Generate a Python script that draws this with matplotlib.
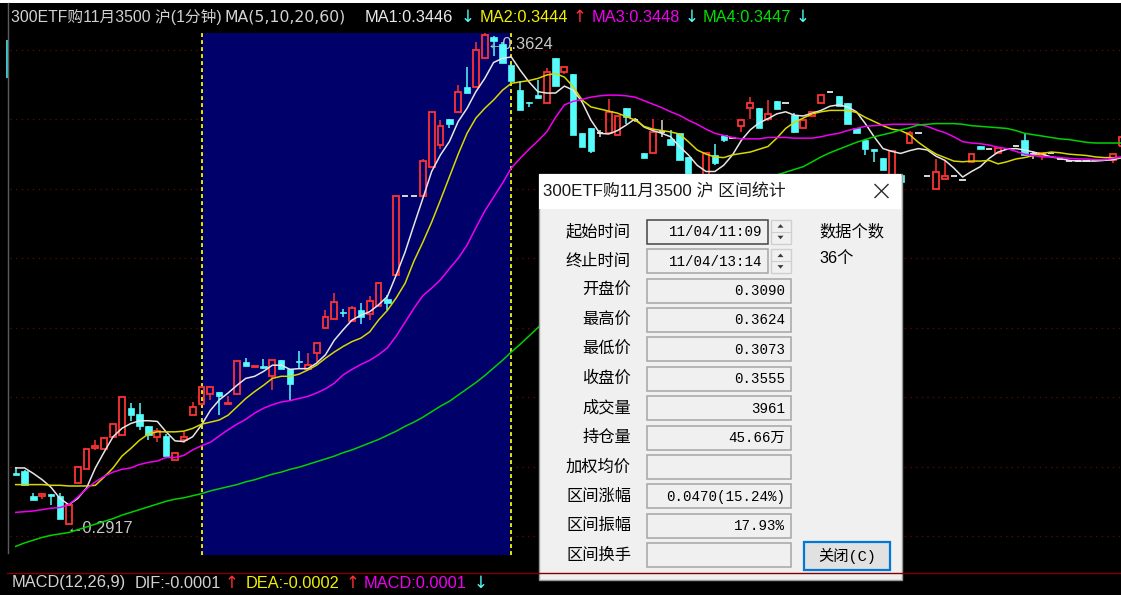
import numpy as np
import matplotlib
matplotlib.use("Agg")
import matplotlib.pyplot as plt
from matplotlib.patches import Rectangle, Polygon

nan = float("nan")

# ---------------- data (1-minute bars) ----------------
opens = [
    0.2991, 0.2993, 0.2958, 0.2958, 0.2961, 0.2958, 0.2917, 0.2977, 0.2997, 0.3027,
    0.3025, 0.3043, 0.3045, 0.3084, 0.3075, 0.3058, 0.3042, 0.3044, 0.3010, 0.3038,
    0.3074, 0.3090, 0.3105, 0.3108, 0.3090, 0.3105, 0.3150, 0.3144, 0.3145, 0.3130,
    0.3153, 0.3140, 0.3152, 0.3140, 0.3164, 0.3199, 0.3212, 0.3223, 0.3209, 0.3226,
    0.3220, 0.3231, 0.3241, 0.3276, 0.3389, 0.3389, 0.3389, 0.3432, 0.3463, 0.3500,
    0.3510, 0.3547, 0.3546, 0.3588, 0.3619, 0.3609, 0.3578, 0.3542, 0.3525, 0.3535,
    0.3524, 0.3588, 0.3569, 0.3565, 0.3480, 0.3488, 0.3480, 0.3480, 0.3477, 0.3517,
    0.3499, 0.3452, 0.3451, 0.3482, 0.3472, 0.3480, 0.3446, 0.3420, 0.3415, 0.3449,
    0.3478, 0.3473, 0.3490, 0.3517, 0.3516, 0.3501, 0.3526, 0.3523, 0.3507, 0.3488,
    0.3505, 0.3523, 0.3540, 0.3534, 0.3523, 0.3487, 0.3470, 0.3457, 0.3444, 0.3420,
    0.3420, 0.3466, 0.3480, 0.3418, 0.3400, 0.3414, 0.3418, 0.3413, 0.3439, 0.3461,
    0.3458, 0.3452, 0.3457, 0.3462, 0.3471, 0.3450, 0.3448, 0.3451, 0.3443, 0.3440,
    0.3440, 0.3440, 0.3441, 0.3441, 0.3441, 0.3462]
highs = [
    0.3000, 0.2995, 0.2962, 0.2962, 0.2961, 0.2962, 0.2945, 0.3000, 0.3026, 0.3038,
    0.3041, 0.3061, 0.3100, 0.3092, 0.3092, 0.3058, 0.3055, 0.3047, 0.3021, 0.3050,
    0.3093, 0.3114, 0.3114, 0.3108, 0.3101, 0.3152, 0.3157, 0.3145, 0.3155, 0.3153,
    0.3153, 0.3140, 0.3166, 0.3164, 0.3178, 0.3226, 0.3250, 0.3227, 0.3231, 0.3235,
    0.3245, 0.3265, 0.3247, 0.3389, 0.3389, 0.3389, 0.3443, 0.3510, 0.3499, 0.3500,
    0.3549, 0.3576, 0.3612, 0.3624, 0.3620, 0.3612, 0.3578, 0.3555, 0.3525, 0.3557,
    0.3574, 0.3588, 0.3575, 0.3565, 0.3480, 0.3488, 0.3485, 0.3529, 0.3505, 0.3517,
    0.3501, 0.3452, 0.3501, 0.3499, 0.3485, 0.3480, 0.3446, 0.3420, 0.3452, 0.3464,
    0.3478, 0.3473, 0.3499, 0.3533, 0.3516, 0.3528, 0.3526, 0.3523, 0.3509, 0.3499,
    0.3510, 0.3535, 0.3540, 0.3534, 0.3523, 0.3487, 0.3470, 0.3457, 0.3444, 0.3454,
    0.3422, 0.3484, 0.3480, 0.3418, 0.3443, 0.3440, 0.3418, 0.3413, 0.3450, 0.3461,
    0.3458, 0.3459, 0.3457, 0.3462, 0.3479, 0.3455, 0.3452, 0.3451, 0.3443, 0.3440,
    0.3440, 0.3440, 0.3441, 0.3441, 0.3450, 0.3475]
lows = [
    0.2988, 0.2973, 0.2952, 0.2953, 0.2945, 0.2925, 0.2917, 0.2977, 0.2997, 0.3024,
    0.3025, 0.3043, 0.3045, 0.3066, 0.3053, 0.3038, 0.3036, 0.3015, 0.3010, 0.3034,
    0.3074, 0.3090, 0.3096, 0.3074, 0.3090, 0.3105, 0.3145, 0.3144, 0.3140, 0.3110,
    0.3141, 0.3096, 0.3142, 0.3140, 0.3150, 0.3199, 0.3212, 0.3216, 0.3209, 0.3205,
    0.3211, 0.3231, 0.3226, 0.3276, 0.3389, 0.3389, 0.3389, 0.3432, 0.3457, 0.3487,
    0.3510, 0.3538, 0.3546, 0.3588, 0.3591, 0.3581, 0.3555, 0.3514, 0.3518, 0.3530,
    0.3524, 0.3548, 0.3565, 0.3477, 0.3460, 0.3451, 0.3475, 0.3480, 0.3476, 0.3494,
    0.3497, 0.3444, 0.3451, 0.3475, 0.3463, 0.3441, 0.3410, 0.3400, 0.3415, 0.3435,
    0.3468, 0.3473, 0.3482, 0.3501, 0.3488, 0.3498, 0.3515, 0.3523, 0.3481, 0.3487,
    0.3505, 0.3523, 0.3540, 0.3520, 0.3494, 0.3480, 0.3449, 0.3439, 0.3427, 0.3420,
    0.3405, 0.3466, 0.3480, 0.3418, 0.3400, 0.3414, 0.3418, 0.3413, 0.3439, 0.3457,
    0.3458, 0.3452, 0.3457, 0.3462, 0.3449, 0.3443, 0.3441, 0.3451, 0.3443, 0.3440,
    0.3440, 0.3440, 0.3441, 0.3441, 0.3437, 0.3462]
closes = [
    0.2988, 0.2973, 0.2952, 0.2960, 0.2958, 0.2925, 0.2945, 0.3000, 0.3026, 0.3030,
    0.3041, 0.3061, 0.3100, 0.3074, 0.3058, 0.3045, 0.3051, 0.3015, 0.3019, 0.3043,
    0.3086, 0.3114, 0.3114, 0.3102, 0.3091, 0.3152, 0.3145, 0.3145, 0.3142, 0.3153,
    0.3141, 0.3119, 0.3150, 0.3146, 0.3178, 0.3216, 0.3237, 0.3221, 0.3228, 0.3216,
    0.3239, 0.3265, 0.3235, 0.3389, 0.3389, 0.3389, 0.3440, 0.3510, 0.3490, 0.3493,
    0.3539, 0.3538, 0.3600, 0.3621, 0.3613, 0.3581, 0.3555, 0.3514, 0.3523, 0.3531,
    0.3569, 0.3548, 0.3575, 0.3477, 0.3460, 0.3455, 0.3480, 0.3511, 0.3505, 0.3503,
    0.3499, 0.3444, 0.3482, 0.3482, 0.3463, 0.3441, 0.3410, 0.3405, 0.3452, 0.3437,
    0.3470, 0.3473, 0.3499, 0.3523, 0.3488, 0.3508, 0.3515, 0.3523, 0.3482, 0.3499,
    0.3510, 0.3535, 0.3540, 0.3520, 0.3494, 0.3480, 0.3458, 0.3454, 0.3427, 0.3454,
    0.3410, 0.3480, 0.3480, 0.3418, 0.3424, 0.3418, 0.3418, 0.3413, 0.3450, 0.3457,
    0.3458, 0.3459, 0.3457, 0.3462, 0.3449, 0.3450, 0.3451, 0.3451, 0.3443, 0.3440,
    0.3440, 0.3440, 0.3441, 0.3441, 0.3450, 0.3475]

ma5 = [
    0.2998, 0.2998, 0.2990, 0.2981, 0.2970, 0.2954, 0.2945, 0.2954, 0.2969, 0.2998,
    0.3021, 0.3043, 0.3055, 0.3062, 0.3066, 0.3066, 0.3065, 0.3050, 0.3037, 0.3036,
    0.3043, 0.3060, 0.3081, 0.3096, 0.3106, 0.3117, 0.3127, 0.3130, 0.3137, 0.3146,
    0.3146, 0.3140, 0.3141, 0.3141, 0.3149, 0.3161, 0.3182, 0.3197, 0.3211, 0.3218,
    0.3223, 0.3233, 0.3245, 0.3276, 0.3309, 0.3348, 0.3386, 0.3425, 0.3449, 0.3468,
    0.3497, 0.3516, 0.3540, 0.3559, 0.3582, 0.3588, 0.3590, 0.3571, 0.3554, 0.3540,
    0.3538, 0.3538, 0.3548, 0.3542, 0.3525, 0.3499, 0.3480, 0.3479, 0.3484, 0.3492,
    0.3501, 0.3489, 0.3484, 0.3480, 0.3475, 0.3461, 0.3449, 0.3434, 0.3425, 0.3425,
    0.3434, 0.3449, 0.3470, 0.3485, 0.3495, 0.3501, 0.3508, 0.3511, 0.3506, 0.3505,
    0.3509, 0.3513, 0.3519, 0.3521, 0.3518, 0.3511, 0.3494, 0.3475, 0.3458, 0.3454,
    0.3451, 0.3455, 0.3458, 0.3456, 0.3447, 0.3441, 0.3430, 0.3417, 0.3425, 0.3432,
    0.3444, 0.3453, 0.3457, 0.3458, 0.3456, 0.3453, 0.3450, 0.3446, 0.3444, 0.3441,
    0.3440, 0.3440, 0.3440, 0.3441, 0.3442, 0.3445]
ma10 = [
    0.2974, 0.2974, 0.2974, 0.2974, 0.2973, 0.2973, 0.2972, 0.2972, 0.2972, 0.2973,
    0.2985, 0.2998, 0.3015, 0.3026, 0.3038, 0.3047, 0.3050, 0.3050, 0.3050, 0.3051,
    0.3055, 0.3061, 0.3064, 0.3067, 0.3074, 0.3086, 0.3098, 0.3108, 0.3117, 0.3127,
    0.3130, 0.3130, 0.3133, 0.3139, 0.3146, 0.3156, 0.3165, 0.3173, 0.3180, 0.3185,
    0.3194, 0.3211, 0.3225, 0.3243, 0.3264, 0.3296, 0.3323, 0.3352, 0.3384, 0.3417,
    0.3450, 0.3480, 0.3502, 0.3516, 0.3528, 0.3542, 0.3552, 0.3554, 0.3556, 0.3559,
    0.3564, 0.3566, 0.3561, 0.3547, 0.3528, 0.3518, 0.3515, 0.3512, 0.3509, 0.3504,
    0.3499, 0.3490, 0.3486, 0.3484, 0.3482, 0.3479, 0.3468, 0.3456, 0.3450, 0.3446,
    0.3445, 0.3449, 0.3451, 0.3453, 0.3457, 0.3461, 0.3473, 0.3487, 0.3496, 0.3502,
    0.3508, 0.3511, 0.3513, 0.3513, 0.3513, 0.3510, 0.3503, 0.3497, 0.3491, 0.3486,
    0.3484, 0.3478, 0.3467, 0.3458, 0.3450, 0.3445, 0.3440, 0.3439, 0.3440, 0.3440,
    0.3441, 0.3436, 0.3439, 0.3443, 0.3445, 0.3448, 0.3451, 0.3453, 0.3452, 0.3450,
    0.3449, 0.3448, 0.3446, 0.3445, 0.3445, 0.3445]
ma20 = [
    0.2934, 0.2935, 0.2936, 0.2938, 0.2940, 0.2941, 0.2945, 0.2956, 0.2968, 0.2978,
    0.2986, 0.2992, 0.2996, 0.2998, 0.3003, 0.3006, 0.3008, 0.3013, 0.3013, 0.3016,
    0.3024, 0.3030, 0.3035, 0.3044, 0.3053, 0.3061, 0.3068, 0.3077, 0.3084, 0.3089,
    0.3093, 0.3095, 0.3098, 0.3101, 0.3106, 0.3112, 0.3120, 0.3132, 0.3140, 0.3147,
    0.3153, 0.3161, 0.3171, 0.3188, 0.3208, 0.3228, 0.3246, 0.3257, 0.3269, 0.3285,
    0.3300, 0.3319, 0.3344, 0.3368, 0.3388, 0.3408, 0.3430, 0.3444, 0.3457, 0.3469,
    0.3482, 0.3503, 0.3521, 0.3526, 0.3529, 0.3532, 0.3534, 0.3535, 0.3535, 0.3534,
    0.3532, 0.3527, 0.3522, 0.3517, 0.3511, 0.3506, 0.3499, 0.3493, 0.3486, 0.3480,
    0.3477, 0.3474, 0.3472, 0.3472, 0.3472, 0.3474, 0.3474, 0.3474, 0.3473, 0.3473,
    0.3473, 0.3475, 0.3478, 0.3480, 0.3484, 0.3487, 0.3490, 0.3491, 0.3492, 0.3493,
    0.3493, 0.3493, 0.3493, 0.3490, 0.3485, 0.3481, 0.3475, 0.3468, 0.3466, 0.3465,
    0.3463, 0.3460, 0.3458, 0.3454, 0.3450, 0.3448, 0.3446, 0.3446, 0.3445, 0.3444,
    0.3443, 0.3443, 0.3442, 0.3442, 0.3444, 0.3446]
# the middle of MA60 lies behind the dialog and is not readable
ma60 = [
    0.2885, 0.2890, 0.2894, 0.2898, 0.2901, 0.2903, 0.2905, 0.2909, 0.2913, 0.2917,
    0.2921, 0.2925, 0.2930, 0.2934, 0.2938, 0.2942, 0.2946, 0.2950, 0.2953, 0.2955,
    0.2958, 0.2961, 0.2965, 0.2968, 0.2971, 0.2974, 0.2978, 0.2981, 0.2985, 0.2989,
    0.2992, 0.2996, 0.2999, 0.3003, 0.3007, 0.3011, 0.3015, 0.3020, 0.3024, 0.3029,
    0.3034, 0.3039, 0.3045, 0.3051, 0.3058, 0.3064, 0.3071, 0.3079, 0.3087, 0.3094,
    0.3103, 0.3112, 0.3121, 0.3131, 0.3142, 0.3153, 0.3165, 0.3176, 0.3188, 0.3200,
    0.3211, 0.3223] + [nan] * 24 + [
    0.3420, 0.3424, 0.3428, 0.3432,
    0.3439, 0.3446, 0.3452, 0.3457, 0.3462, 0.3467, 0.3471, 0.3475, 0.3478, 0.3481,
    0.3485, 0.3488, 0.3492, 0.3493, 0.3494, 0.3494, 0.3494, 0.3493, 0.3491, 0.3490,
    0.3489, 0.3488, 0.3487, 0.3484, 0.3480, 0.3478, 0.3476, 0.3474, 0.3472, 0.3471,
    0.3469, 0.3467, 0.3466, 0.3466, 0.3466, 0.3466]

grid_prices = [0.29, 0.30, 0.31, 0.32, 0.33, 0.34, 0.35, 0.36]
sel_start, sel_end = 21, 56          # 11:09 .. 13:14 (36 bars)

header = [("300ETF购11月3500 沪(1分钟)", "#D2D2D2"), ("MA(5,10,20,60)", "#D2D2D2"),
          ("MA1:0.3446", "#E8E8E8"), ("↓", "#54FCFC"), ("MA2:0.3444", "#F0F000"),
          ("↑", "#FF3232"), ("MA3:0.3448", "#F000F0"), ("↓", "#54FCFC"),
          ("MA4:0.3447", "#00E000"), ("↓", "#54FCFC")]
footer = [("MACD(12,26,9)", "#D2D2D2"), ("DIF:-0.0001", "#D2D2D2"), ("↑", "#FF3232"),
          ("DEA:-0.0002", "#F0F000"), ("↑", "#FF3232"), ("MACD:0.0001", "#F000F0"),
          ("↓", "#54FCFC")]

dlg_title = "300ETF购11月3500 沪 区间统计"
dlg_labels = ["起始时间", "终止时间", "开盘价", "最高价", "最低价", "收盘价",
              "成交量", "持仓量", "加权均价", "区间涨幅", "区间振幅", "区间换手"]
dlg_values = ["11/04/11:09", "11/04/13:14", "0.3090", "0.3624", "0.3073", "0.3555",
              "3961", "45.66万", "", "0.0470(15.24%)", "17.93%", ""]
dlg_count_label, dlg_count = "数据个数", "36个"
dlg_button = "关闭(C)"

# ---------------- style ----------------
BG = "#000000"
UP, DOWN, FLAT = "#FF3232", "#54FCFC", "#D8D8D8"
MA_COLORS = ["#E6E6E6", "#D8D800", "#F000F0", "#00D200"]
LATIN = ["Liberation Sans", "Noto Sans CJK SC", "DejaVu Sans"]
MONO = ["Liberation Mono", "Noto Sans CJK SC"]
CJK = ["Noto Sans CJK SC", "DejaVu Sans"]

W, H = 1121, 595
fig = plt.figure(figsize=(W / 100, H / 100), dpi=100, facecolor=BG)

# price panel: bar i sits at pixel 15.7 + 8.85 * i
left, right, top, bottom = 10, 1121, 30, 560
ax = fig.add_axes([left / W, 1 - bottom / H, (right - left) / W, (bottom - top) / H])
ax.set_facecolor(BG)
ax.set_xlim((left - 15.7) / 8.85, (right - 15.7) / 8.85)
ax.set_ylim(0.28654, 0.36288)
ax.axis("off")

for p in grid_prices:
    ax.axhline(p, color="#7A0000", lw=0.9, dashes=(1, 3.5), zorder=1)

span_lo, span_hi = 5 / 530, 527 / 530
ax.axvspan(sel_start, sel_end, ymin=span_lo, ymax=span_hi, color="#00006A", lw=0, zorder=2)
for xb in (sel_start, sel_end):
    ax.axvline(xb, span_lo, span_hi, color="#E6E600", lw=1.4, dashes=(2, 1.6), zorder=3)

x = np.arange(len(opens))
o, h, l, c = (np.array(v) for v in (opens, highs, lows, closes))
up, down, flat = c > o, c < o, c == o

ax.vlines(x[down], l[down], h[down], color=DOWN, lw=1.1, zorder=5)
ax.bar(x[down], o[down] - c[down], bottom=c[down], width=0.72, color=DOWN,
       edgecolor=DOWN, lw=0.5, zorder=6)
ax.vlines(x[up], c[up], h[up], color=UP, lw=1.1, zorder=5)
ax.vlines(x[up], l[up], o[up], color=UP, lw=1.1, zorder=5)
ax.bar(x[up], c[up] - o[up], bottom=o[up], width=0.66, facecolor="none",
       edgecolor=UP, lw=1.3, zorder=6)
ax.vlines(x[flat], l[flat], h[flat], color=FLAT, lw=1.1, zorder=5)
ax.hlines(o[flat], x[flat] - 0.36, x[flat] + 0.36, color=FLAT, lw=1.4, zorder=6)

for ma, col in zip((ma5, ma10, ma20, ma60), MA_COLORS):
    ax.plot(x, ma, color=col, lw=1.1, zorder=7)

i_lo, i_hi = int(np.argmin(l)), int(np.argmax(h))
ax.text(i_lo - 0.2, l[i_lo] - 0.0006, f"←{l[i_lo]:.4f}", color="#C8C8C8", fontsize=11.8,
        family=LATIN, va="center", ha="left", zorder=4)
ax.text(i_hi + 0.25, h[i_hi] - 0.0016, f"←{h[i_hi]:.4f}", color="#C8C8C8", fontsize=11.8,
        family=LATIN, va="center", ha="left", zorder=4)

# ---------------- screen furniture (pixel coordinates) ----------------
ui = fig.add_axes([0, 0, 1, 1], zorder=10)
ui.set_xlim(0, W)
ui.set_ylim(H, 0)
ui.axis("off")
ui.patch.set_alpha(0)

ui.add_patch(Rectangle((0, 0), W, 2.5, color="white", lw=0))
ui.plot([7.5, 7.5], [3, 553], color="#5C5C5C", lw=1)
ui.add_patch(Rectangle((6.3, 40), 3, 38, color="#3CC8C8", lw=0))
ui.plot([7, W], [572.5, 572.5], color="#800000", lw=1)

# (x, font size, family) per header piece
head_fmt = [(11, 11.3, LATIN), (224, 11.3, ["DejaVu Sans"]), (365, 11.8, LATIN),
            (468, 12, ["DejaVu Sans"]), (480, 11.8, LATIN), (580, 12, ["DejaVu Sans"]),
            (592, 11.8, LATIN), (692, 12, ["DejaVu Sans"]), (703, 11.8, LATIN),
            (803, 12, ["DejaVu Sans"])]
for (txt, col), (xp, fs, fam) in zip(header, head_fmt):
    ui.text(xp, 17, txt, color=col, fontsize=fs, family=fam,
            ha="center" if txt in "↑↓" else "left", va="center")
for (txt, col), xp in zip(footer, [12, 135, 232, 246, 353, 364, 481]):
    arrow = txt in "↑↓"
    ui.text(xp, 583, txt, color=col, fontsize=12 if arrow else 11.8,
            family=["DejaVu Sans"] if arrow else LATIN,
            ha="center" if arrow else "left", va="center")

# dialog
dx0, dy0, dx1, dy1 = 538.5, 173.5, 901.5, 580
ui.add_patch(Rectangle((dx0, dy0), dx1 - dx0, dy1 - dy0, facecolor="#F0F0F0",
                       edgecolor="#9A9A9A", lw=1))
ui.add_patch(Rectangle((dx0 + 0.7, dy0 + 0.7), dx1 - dx0 - 1.4, 34.5, facecolor="white", lw=0))
ui.text(543, 191, dlg_title, color="#1A1A1A", fontsize=12.2, family=LATIN, va="center")
ui.plot([875, 888], [184.5, 197.5], color="#2B2B2B", lw=1)
ui.plot([875, 888], [197.5, 184.5], color="#2B2B2B", lw=1)

for i, (lab, val) in enumerate(zip(dlg_labels, dlg_values)):
    cy = 231.7 + 29.4 * i
    ui.text(631, cy, lab, color="#000000", fontsize=11.7, family=CJK, ha="right", va="center")
    timed = i < 2
    fw = 121 if timed else 144
    ui.add_patch(Rectangle((646.5, cy - 12), fw, 24, facecolor="#F0F0F0",
                           edgecolor="#454545" if i == 0 else "#A5A5A5", lw=1.1))
    ui.text(646.5 + fw - 5.5, cy + 0.5, val, color="#000000", fontsize=10.2, family=MONO,
            ha="right", va="center")
    if timed:
        ui.add_patch(Rectangle((770.5, cy - 12), 20, 24, facecolor="#F0F0F0",
                               edgecolor="#CFCFCF", lw=1))
        ui.plot([771, 790], [cy, cy], color="#CFCFCF", lw=0.8)
        ui.add_patch(Polygon([(777.5, cy - 4), (783.5, cy - 4), (780.5, cy - 7.5)],
                             color="#3A3A3A", lw=0))
        ui.add_patch(Polygon([(777.5, cy + 4), (783.5, cy + 4), (780.5, cy + 7.5)],
                             color="#3A3A3A", lw=0))

ui.text(819, 231.7, dlg_count_label, color="#000000", fontsize=11.7, family=CJK, va="center")
ui.text(819, 258.5, dlg_count, color="#000000", fontsize=11.7, family=LATIN, va="center")
ui.add_patch(Rectangle((803.5, 541.5), 86.5, 28.5, facecolor="#E1E1E1",
                       edgecolor="#0078D7", lw=1.6))
ui.text(846.8, 556, dlg_button, color="#000000", fontsize=11, family=MONO,
        ha="center", va="center")

fig.savefig("out.png", dpi=100, facecolor=BG)
